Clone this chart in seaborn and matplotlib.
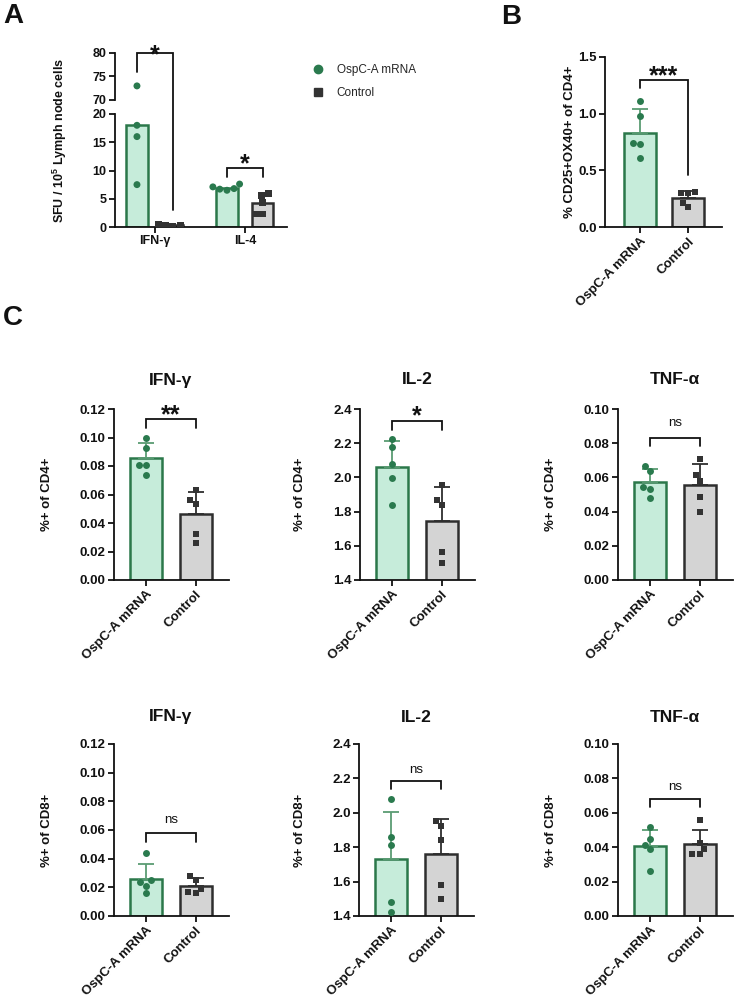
import numpy as np
import pandas as pd
import matplotlib
matplotlib.use("Agg")
import matplotlib.pyplot as plt
import seaborn as sns
from matplotlib.lines import Line2D
from matplotlib.transforms import ScaledTranslation
from matplotlib.ticker import FormatStrFormatter, FixedLocator

sns.set_theme(style="ticks")
plt.rcParams["font.family"] = ["Liberation Sans", "DejaVu Sans"]
plt.rcParams["mathtext.fontset"] = "custom"
plt.rcParams["mathtext.rm"] = "Liberation Sans"
plt.rcParams["mathtext.bf"] = "Liberation Sans:bold"

# ---------------- data ----------------
groups = ["OspC-A mRNA", "Control"]

# Panel A (ELISpot)
a_cytokines = ["IFN-γ", "IL-4"]
a_ifn_ospc = [73.0, 18.0, 16.0, 7.5]
a_ifn_ctrl = [0.5, 0.3, 0.2, 0.1]
a_il4_ospc = [7.6, 7.1, 6.8, 6.7, 6.5]
a_il4_ctrl = [6.0, 5.6, 4.4, 2.3, 2.3]
a_bar_ospc = [18.0, 6.9]
a_bar_ctrl = [0.3, 4.3]

# Panel B
b_ospc = [1.11, 0.977, 0.737, 0.731, 0.613]
b_ctrl = [0.305, 0.302, 0.296, 0.214, 0.173]

# Panel C, CD4+
c4_ifn_ospc = [0.0996, 0.0926, 0.0804, 0.0804, 0.0738]
c4_ifn_ctrl = [0.063, 0.056, 0.053, 0.032, 0.026]
c4_il2_ospc = [2.224, 2.175, 2.078, 1.996, 1.836]
c4_il2_ctrl = [1.955, 1.869, 1.838, 1.566, 1.498]
c4_tnf_ospc = [0.0668, 0.0639, 0.0541, 0.0531, 0.0479]
c4_tnf_ctrl = [0.0707, 0.0615, 0.058, 0.0488, 0.0396]
# Panel C, CD8+
c8_ifn_ospc = [0.0438, 0.0249, 0.0235, 0.0212, 0.0158]
c8_ifn_ctrl = [0.028, 0.025, 0.019, 0.017, 0.016]
c8_il2_ospc = [2.082, 1.86, 1.811, 1.48, 1.421]
c8_il2_ctrl = [1.952, 1.922, 1.839, 1.583, 1.501]
c8_tnf_ospc = [0.0515, 0.045, 0.0413, 0.0389, 0.026]
c8_tnf_ctrl = [0.056, 0.0427, 0.0391, 0.0358, 0.0358]

c_titles = ["IFN-γ", "IL-2", "TNF-α"]
c_ylabels = ["%+ of CD4+", "%+ of CD8+"]
c_sig_row1 = ["**", "*", "ns"]
c_sig_row2 = ["ns", "ns", "ns"]

# ---------------- style ----------------
GREEN_EDGE = "#2b784a"
GREEN_FILL = "#c0f2da"
GREEN_PT = "#2a7a4e"
GREEN_ERR = "#5a9c73"
GRAY_FILL = "#d4d4d4"
GRAY_EDGE = "#2e2e2e"
GRAY_PT = "#333333"
INK = "#111111"
fills = {groups[0]: GREEN_FILL, groups[1]: GRAY_FILL}
edges = {groups[0]: GREEN_EDGE, groups[1]: GRAY_EDGE}
ptcol = {groups[0]: GREEN_PT, groups[1]: GRAY_PT}
markers = {groups[0]: "o", groups[1]: "s"}
errcol = {groups[0]: GREEN_ERR, groups[1]: GRAY_EDGE}

TICK_FS = 9.5
LABEL_FS = 9.5

W, H = 735, 999
fig = plt.figure(figsize=(W / 100, H / 100), dpi=100)


def add_ax(left, top, right, bottom):
    return fig.add_axes([left / W, 1 - bottom / H, (right - left) / W, (bottom - top) / H])


def style_ax(ax, fs=TICK_FS):
    sns.despine(ax=ax)
    for s in ["left", "bottom"]:
        ax.spines[s].set_linewidth(1.3)
        ax.spines[s].set_color(INK)
    ax.tick_params(axis="both", length=4, width=1.3, color=INK, labelsize=fs, pad=2)
    for lab in ax.get_xticklabels() + ax.get_yticklabels():
        lab.set_fontweight("bold")
        lab.set_color(INK)


def sig(ax, x1, x2, ytop, yl, yr, label, ylab):
    ax.plot([x1, x1, x2, x2], [yl, ytop, ytop, yr], color=INK, lw=1.3,
            clip_on=False, solid_joinstyle="miter", zorder=5)
    if label == "ns":
        fs, wt, k = 9.5, "normal", 0.26
    else:
        fs, wt, k = 18, "bold", 0.56
    tr = ax.transData + ScaledTranslation(0, -k * fs / 72, fig.dpi_scale_trans)
    ax.text((x1 + x2) / 2, ylab, label, transform=tr, ha="center", va="baseline",
            fontsize=fs, fontweight=wt, color=INK, clip_on=False)


def two_group_panel(ax, ospc, ctrl, ylim, yticks, fmt, ylabel, label_x):
    df = pd.DataFrame({"group": [groups[0]] * len(ospc) + [groups[1]] * len(ctrl),
                       "value": list(ospc) + list(ctrl)})
    sns.barplot(data=df, x="group", y="value", order=groups, hue="group", hue_order=groups,
                palette=fills, errorbar=None, width=0.65, linewidth=1.8, legend=False, ax=ax)
    for cont, g in zip(ax.containers, groups):
        for p in cont:
            p.set_edgecolor(edges[g])
    for i, g in enumerate(groups):
        vals = df.loc[df.group == g, "value"]
        m, sd = vals.mean(), vals.std(ddof=1)
        ax.errorbar(i, m, yerr=[[0], [sd]], color=errcol[g], capsize=5.5, lw=1.3,
                    capthick=1.3, zorder=2.5)
    for g in groups:
        sns.swarmplot(data=df[df.group == g], x="group", y="value", order=groups,
                      color=ptcol[g], marker=markers[g], size=5, linewidth=0, ax=ax, zorder=3)
    ax.set_xlim(-0.66, 1.68)
    ax.set_ylim(*ylim)
    ax.yaxis.set_major_locator(FixedLocator(yticks))
    ax.yaxis.set_major_formatter(FormatStrFormatter(fmt))
    ax.set_xlabel("")
    ax.set_ylabel(ylabel, fontsize=LABEL_FS, fontweight="bold", color=INK)
    ax.yaxis.set_label_coords(label_x, 0.5)
    style_ax(ax)
    ax.set_xticks([0, 1])
    ax.set_xticklabels(groups, rotation=45, ha="right", rotation_mode="anchor",
                       fontsize=TICK_FS, fontweight="bold", color=INK)


# ---------------- Panel A ----------------
axA = add_ax(115, 114, 287, 227)
axAu = add_ax(115, 53, 287, 100)

a_points = pd.DataFrame({
    "cytokine": ["IFN-γ"] * (len(a_ifn_ospc) + len(a_ifn_ctrl)) + ["IL-4"] * (len(a_il4_ospc) + len(a_il4_ctrl)),
    "group": [groups[0]] * len(a_ifn_ospc) + [groups[1]] * len(a_ifn_ctrl)
             + [groups[0]] * len(a_il4_ospc) + [groups[1]] * len(a_il4_ctrl),
    "value": a_ifn_ospc + a_ifn_ctrl + a_il4_ospc + a_il4_ctrl,
})
a_bars = pd.DataFrame({
    "cytokine": a_cytokines * 2,
    "group": [groups[0]] * 2 + [groups[1]] * 2,
    "height": a_bar_ospc + a_bar_ctrl,
})
sns.barplot(data=a_bars, x="cytokine", y="height", hue="group", hue_order=groups, order=a_cytokines,
            palette=fills, errorbar=None, width=0.78, gap=0.375, linewidth=1.8, legend=False, ax=axA)
for cont, g in zip(axA.containers, groups):
    for p in cont:
        p.set_edgecolor(edges[g])
for ax in (axA, axAu):
    for g in groups:
        sns.swarmplot(data=a_points[a_points.group == g], x="cytokine", y="value", hue="group",
                      hue_order=groups, order=a_cytokines, dodge=True, palette=ptcol,
                      marker=markers[g], size=5, linewidth=0, legend=False, ax=ax, zorder=3)
    ax.set_xlim(-0.444, 1.467)
    ax.set_xlabel("")
    ax.set_ylabel("")
axA.set_ylim(0, 20)
axA.set_yticks([0, 5, 10, 15, 20])
axAu.set_ylim(70, 80)
axAu.set_yticks([70, 75, 80])
style_ax(axA, fs=9)
style_ax(axAu, fs=9)
axA.set_xticks([0, 1])
axA.set_xticklabels(a_cytokines, fontsize=9, fontweight="bold", color=INK)
axAu.spines["bottom"].set_visible(False)
axAu.tick_params(axis="x", bottom=False, labelbottom=False)

# bracket IFN-γ spanning the axis break (drawn in the upper axis' coordinates)
y_low3 = axAu.transData.inverted().transform(axA.transData.transform((0, 3.0)))[1]
sig(axAu, -0.2, 0.2, 80, 76, y_low3, "*", 81.0)
sig(axA, 0.8, 1.2, 10.44, 8.85, 8.85, "*", 12.3)

fig.text(60 / W, 1 - 140 / H, r"SFU / 10$^{\mathbf{5}}$ Lymph node cells", rotation=90,
         ha="center", va="center", fontsize=9, fontweight="bold", color=INK)

# legend
handles = [Line2D([], [], marker=markers[g], color=ptcol[g], ls="", markersize=6) for g in groups]
fig.legend(handles, groups, loc="upper left", bbox_to_anchor=(312 / W, 1 - 64 / H),
           frameon=False, fontsize=8.5, handlelength=1.0, handletextpad=1.1,
           labelspacing=0.95, borderpad=0, borderaxespad=0, numpoints=1)

# ---------------- Panel B ----------------
axB = fig.add_axes([605 / W, 1 - 227 / H, 117 / W, 170 / H])
two_group_panel(axB, b_ospc, b_ctrl, (0, 1.5), [0, 0.5, 1.0, 1.5], "%.1f",
                "% CD25+OX40+ of CD4+", -0.25)
axB.set_xlim(-0.73, 1.71)
sig(axB, 0, 1, 1.297, 1.226, 0.459, "***", 1.39)

# ---------------- Panel C ----------------
c_data = [
    [(c4_ifn_ospc, c4_ifn_ctrl), (c4_il2_ospc, c4_il2_ctrl), (c4_tnf_ospc, c4_tnf_ctrl)],
    [(c8_ifn_ospc, c8_ifn_ctrl), (c8_il2_ospc, c8_il2_ctrl), (c8_tnf_ospc, c8_tnf_ctrl)],
]
c_axis_cfg = [
    ((0, 0.12), list(np.round(np.arange(0, 0.121, 0.02), 2)), "%.2f"),
    ((1.4, 2.4), list(np.round(np.arange(1.4, 2.41, 0.2), 1)), "%.1f"),
    ((0, 0.10), list(np.round(np.arange(0, 0.101, 0.02), 2)), "%.2f"),
]
c_brackets = [
    [(0.113, 0.1066, 0.1207), (2.328, 2.279, 2.396), (0.083, 0.0785, 0.092)],
    [(0.0578, 0.0515, 0.067), (2.186, 2.137, 2.254), (0.0681, 0.0632, 0.075)],
]
c_left = [[114, 360, 618], [114, 359, 618]]
c_rows = [(409, 580), (744, 916)]
c_title_y = [380, 717]
c_label_x = [[-0.53, -0.47, -0.53], [-0.53, -0.46, -0.53]]
c_sig = [c_sig_row1, c_sig_row2]

for r in range(2):
    top, bot = c_rows[r]
    for c in range(3):
        left = c_left[r][c]
        ax = add_ax(left, top, left + 115, bot)
        ospc, ctrl = c_data[r][c]
        ylim, yt, fmt = c_axis_cfg[c]
        two_group_panel(ax, ospc, ctrl, ylim, yt, fmt, c_ylabels[r], c_label_x[r][c])
        bt, bl, bs = c_brackets[r][c]
        sig(ax, 0, 1, bt, bl, bl, c_sig[r][c], bs)
        fig.text((left + 57) / W, 1 - c_title_y[r] / H, c_titles[c], ha="center", va="center",
                 fontsize=12.5, fontweight="bold", color=INK)

# panel letters
for txt, x, y in [("A", 3, 3), ("B", 501, 4), ("C", 3, 305)]:
    fig.text(x / W, 1 - y / H, txt, ha="left", va="top", fontsize=20, fontweight="bold", color=INK)

fig.savefig("out.png", dpi=100, facecolor="white")
